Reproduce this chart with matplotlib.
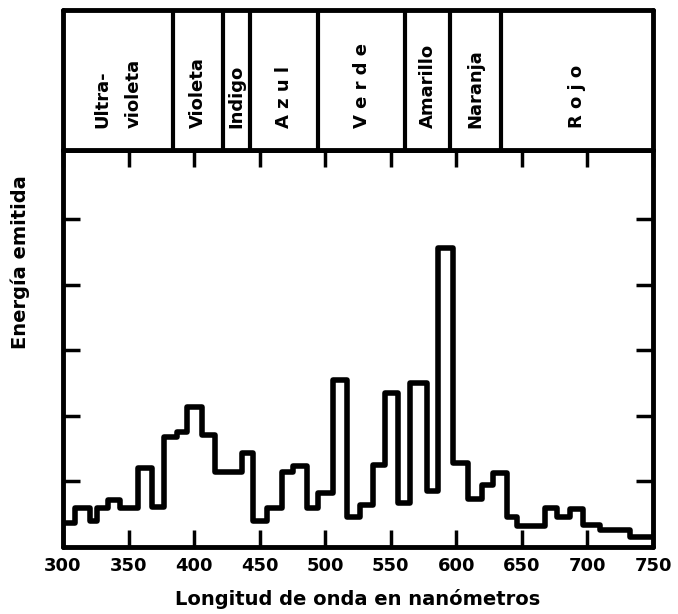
import matplotlib
matplotlib.use("Agg")
import matplotlib.pyplot as plt
import numpy as np

# Emission spectrum (step histogram): bin edges in nm and relative emitted energy
edges = [300, 309, 320.6, 325.7, 334.6, 343.5, 357.5, 367.7, 377, 386.7, 394.3,
         405.8, 416, 436.3, 445.2, 455.4, 466.8, 475.7, 485.9, 494.7, 506.2,
         516.4, 526.5, 536.7, 545.6, 555.8, 564.7, 577.4, 586.3, 597.7, 609.2,
         619.3, 628.2, 638.4, 646.1, 667.7, 676.6, 686.7, 696.9, 709.6, 732.5, 750]
energy = [0.36, 0.59, 0.39, 0.59, 0.72, 0.59, 1.20, 0.61, 1.68, 1.75,
          2.14, 1.71, 1.15, 1.43, 0.39, 0.59, 1.15, 1.24, 0.59, 0.82,
          2.55, 0.46, 0.64, 1.25, 2.35, 0.67, 2.50, 0.85, 4.56, 1.28,
          0.74, 0.95, 1.13, 0.46, 0.32, 0.59, 0.46, 0.575, 0.34, 0.26, 0.16]

# Colour bands of the spectrum
band_edges = [300, 384, 422, 442.6, 494.7, 560.9, 595.2, 634, 750]
band_names = ["Ultra-\nvioleta", "Violeta", "Indigo", "A z u l", "V e r d e",
              "Amarillo", "Naranja", "R o j o"]

x_ticks = [300, 350, 400, 450, 500, 550, 600, 650, 700, 750]
y_ticks = [1, 2, 3, 4, 5]

W, H = 678, 614
fig = plt.figure(figsize=(W / 100, H / 100), dpi=100)

def frac_box(x0, y0, x1, y1):
    return [x0 / W, 1 - y1 / H, (x1 - x0) / W, (y1 - y0) / H]

ax = fig.add_axes(frac_box(63, 150, 653, 547))
axb = fig.add_axes(frac_box(63, 10, 653, 150))

lw_frame = 3.5
for a in (ax, axb):
    for s in a.spines.values():
        s.set_linewidth(lw_frame)
        s.set_capstyle("round")

# Spectrum
ax.stairs(energy, edges, baseline=None, color="black", linewidth=4.0,
          joinstyle="round")
ax.set_xlim(300, 750)
ax.set_ylim(0, 6.06)
ax.set_xticks(x_ticks)
ax.set_xticklabels([str(t) for t in x_ticks], fontsize=13, fontweight="heavy")
ax.set_yticks(y_ticks)
ax.set_yticklabels([])
ax.tick_params(axis="both", direction="in", length=12, width=2.5,
               top=True, right=True, pad=7)
ax.set_xlabel("Longitud de onda en nanómetros", fontsize=14, fontweight="bold",
              labelpad=10)

fig.text(20 / W, 1 - 262 / H, "Energía emitida", rotation=90, fontsize=14,
         fontweight="bold", ha="center", va="center")

# Band strip
axb.set_xlim(300, 750)
axb.set_ylim(0, 1)
axb.set_xticks([])
axb.set_yticks([])
axb.vlines(band_edges[1:-1], 0, 1, color="black", linewidth=3)
for lo, hi, name in zip(band_edges[:-1], band_edges[1:], band_names):
    axb.text((lo + hi) / 2, 0.157, name, rotation=90, fontsize=13,
             fontweight="bold", ha="center", va="bottom",
             multialignment="left", linespacing=1.9)

fig.savefig("out.png", dpi=100)
